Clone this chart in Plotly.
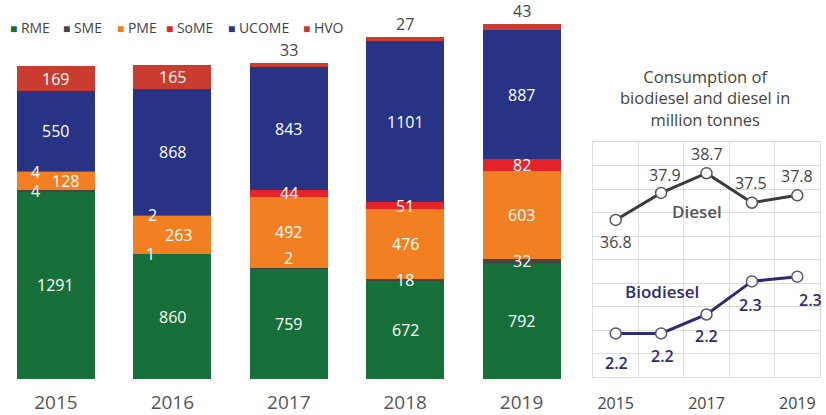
import plotly.graph_objects as go

# ---------------- data ----------------
years = [2015, 2016, 2017, 2018, 2019]
series_names = ["RME", "SME", "PME", "SoME", "UCOME", "HVO"]
rme = [1291, 860, 759, 672, 792]
sme = [4, 1, 2, 18, 32]
pme = [128, 263, 492, 476, 603]
some = [4, 2, 44, 51, 82]
ucome = [550, 868, 843, 1101, 887]
hvo = [169, 165, 33, 27, 43]

diesel = [36.8, 37.9, 38.7, 37.5, 37.8]
biodiesel = [2.16, 2.16, 2.20, 2.27, 2.28]

right_title = "Consumption of<br>biodiesel and diesel in<br>million tonnes"

# ---------------- style ----------------
colors = {
    "RME": "#17703a",
    "SME": "#454545",
    "PME": "#f28022",
    "SoME": "#e6232b",
    "UCOME": "#283386",
    "HVO": "#c93c2f",
}
values = dict(zip(series_names, [rme, sme, pme, some, ucome, hvo]))
FONT = "Open Sans"
W, H = 826, 415
DIESEL_C = "#3c3c3c"
BIO_C = "#2e2b72"

# pixel offsets for crowded labels (style only)
label_offsets = {
    ("SME", 0): (-20, 0), ("SoME", 0): (-20, 0), ("PME", 0): (10, 0),
    ("SME", 1): (-22, 0), ("SoME", 1): (-20, 0), ("PME", 1): (6, 0),
    ("SME", 2): (0, 10),
}
diesel_label_shift = [(0, -22), (4, 18), (0, 19), (-1, 20), (0, 19)]
bio_label_shift = [(1, -30), (1, -23), (0, -22), (-1, -24), (13, -23)]

fig = go.Figure()

for name in series_names:
    fig.add_trace(go.Bar(
        x=years, y=values[name], name=name,
        marker=dict(color=colors[name], line=dict(width=0)),
        width=0.67, showlegend=False, hoverinfo="skip",
        xaxis="x", yaxis="y",
    ))

annotations = []
for i, yr in enumerate(years):
    base = 0
    total = sum(values[n][i] for n in series_names)
    for name in series_names:
        v = values[name][i]
        dx, dy = label_offsets.get((name, i), (0, 0))
        if name == "HVO" and v < 50:
            annotations.append(dict(
                x=yr, y=total, xref="x", yref="y", text=str(v), showarrow=False,
                yshift=13, font=dict(family=FONT, size=16, color="#444444"),
            ))
        else:
            annotations.append(dict(
                x=yr, y=base + v / 2, xref="x", yref="y", text=str(v),
                showarrow=False, xshift=dx, yshift=dy,
                font=dict(family=FONT, size=16, color="white"),
            ))
        base += v

# legend as text (compact like the reference)
legend_x = [8, 61, 115, 164, 226, 301]
for name, lx in zip(series_names, legend_x):
    annotations.append(dict(
        x=lx / W, y=1 - 28 / H, xref="paper", yref="paper", xanchor="left",
        yanchor="middle", showarrow=False,
        text=f"<span style='color:{colors[name]};font-size:12px'>■</span> {name}",
        font=dict(family=FONT, size=14, color="#444444"),
    ))

# ---------------- right line chart ----------------
d_rng = [30.403, 39.958]
b_rng = [2.0674, 2.5642]

fig.add_trace(go.Scatter(
    x=years, y=diesel, mode="lines+markers",
    line=dict(color=DIESEL_C, width=3),
    marker=dict(size=11, color="white", line=dict(color="#555555", width=1.5)),
    showlegend=False, hoverinfo="skip", xaxis="x2", yaxis="y3", cliponaxis=False,
))
fig.add_trace(go.Scatter(
    x=years, y=biodiesel, mode="lines+markers",
    line=dict(color=BIO_C, width=3),
    marker=dict(size=11, color="white", line=dict(color="#555577", width=1.5)),
    showlegend=False, hoverinfo="skip", xaxis="x2", yaxis="y4", cliponaxis=False,
))

for yr, v, (dx, dy) in zip(years, diesel, diesel_label_shift):
    annotations.append(dict(
        x=yr, y=v, xref="x2", yref="y3", text=f"{v:.1f}", showarrow=False,
        xanchor="center", yanchor="middle", xshift=dx, yshift=dy,
        font=dict(family=FONT, size=16, color="#444444"),
    ))
for yr, v, (dx, dy) in zip(years, biodiesel, bio_label_shift):
    annotations.append(dict(
        x=yr, y=v, xref="x2", yref="y4", text=f"{v:.1f}", showarrow=False,
        xanchor="center", yanchor="middle", xshift=dx, yshift=dy,
        font=dict(family=FONT, size=16, color=BIO_C, weight=600),
    ))

annotations.append(dict(
    x=705 / W, y=1 - 98 / H, xref="paper", yref="paper", text=right_title,
    showarrow=False, align="center", xanchor="center", yanchor="middle",
    font=dict(family=FONT, size=16.5, color="#444444"),
))
annotations.append(dict(
    x=2016.8, y=37.16, xref="x2", yref="y3", text="Diesel", showarrow=False,
    xanchor="center", yanchor="middle",
    font=dict(family=FONT, size=17, color="#555555", weight=600),
))
annotations.append(dict(
    x=2016.02, y=2.248, xref="x2", yref="y4", text="Biodiesel", showarrow=False,
    xanchor="center", yanchor="middle",
    font=dict(family=FONT, size=17, color=BIO_C, weight=600),
))

fig.update_layout(
    width=W, height=H,
    margin=dict(l=0, r=0, t=0, b=0),
    paper_bgcolor="white", plot_bgcolor="white",
    barmode="stack", bargap=0,
    annotations=annotations,
    xaxis=dict(
        domain=[0, 580 / W], range=[2015 - 0.481, 2019 + 0.502],
        tickvals=years, ticktext=[str(y) for y in years],
        tickfont=dict(family=FONT, size=19, color="#555555"),
        showgrid=False, zeroline=False, showline=False, ticks="",
        ticklabelstandoff=10, fixedrange=True,
    ),
    yaxis=dict(
        domain=[1 - 381 / H, 1], range=[0, 2602], visible=False,
        showgrid=False, zeroline=False,
    ),
    xaxis2=dict(
        domain=[593 / W, 820 / W], range=[2014.5, 2019.5], anchor="y3",
        tickvals=[2015, 2017, 2019], ticktext=["2015", "2017", "2019"],
        tickfont=dict(family=FONT, size=16, color="#444444"),
        showgrid=False, zeroline=False, ticks="",
        showline=True, mirror=True, linecolor="#dddddd", linewidth=1,
        minor=dict(tickvals=[2015.5, 2016.5, 2017.5, 2018.5], showgrid=True,
                   gridcolor="#dddddd", gridwidth=1, ticks=""),
        ticklabelstandoff=12,
    ),
    yaxis3=dict(
        domain=[1 - 379 / H, 1 - 143 / H], range=d_rng, anchor="x2",
        tick0=d_rng[0], dtick=(d_rng[1] - d_rng[0]) / 10,
        showgrid=True, gridcolor="#dddddd", gridwidth=1,
        showticklabels=False, zeroline=False, ticks="",
        showline=True, mirror=True, linecolor="#dddddd", linewidth=1,
    ),
    yaxis4=dict(
        range=b_rng, overlaying="y3", anchor="x2", visible=False,
        showgrid=False, zeroline=False,
    ),
)

fig.write_html(
    "out.html",
    config={"displayModeBar": False},
    post_script="document.body.style.margin='0';document.body.style.overflow='hidden';",
)
